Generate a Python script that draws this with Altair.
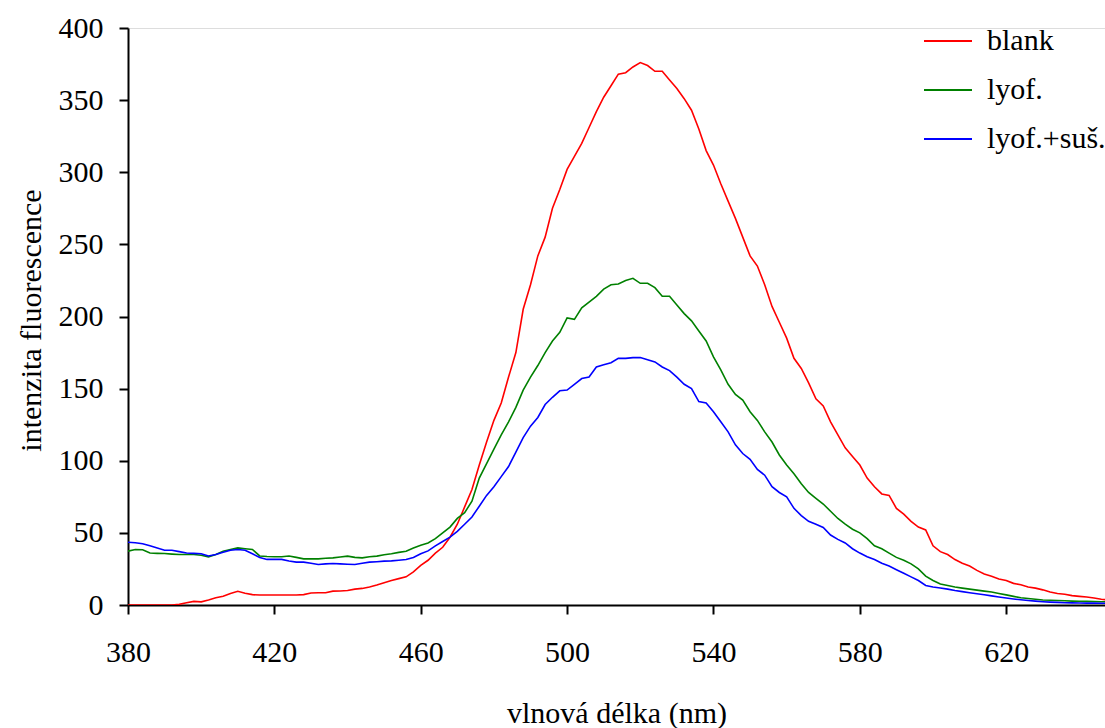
import altair as alt
import pandas as pd

wavelength = list(range(380, 650, 2))

blank = [0, 0, 0, 0, 0, 0, 0, 0.5, 1.5, 2.5, 2.2, 3.5, 5, 6, 8, 9.5, 8.2, 7.2, 6.9, 6.9,
         6.9, 6.9, 6.9, 6.9, 7.2, 8.3, 8.5, 8.5, 9.6, 9.7, 10, 11, 11.5, 12.5, 13.8, 15.5, 17, 18.3, 19.5, 23,
         27.5, 31, 36, 40, 47, 56, 68, 80, 97, 113, 128, 140, 158, 175, 205, 222, 242, 255, 275, 288,
         302, 311, 320, 331, 342, 352, 360, 368, 369, 373, 376, 374, 370, 370, 364, 358, 351, 343, 330, 315,
         305, 292, 280, 268, 255, 242, 235, 222, 207, 196, 185, 171, 164, 154, 143, 138, 127, 118, 109, 103,
         97, 88, 82, 77, 76, 67, 63, 58, 54, 52, 41, 37, 35, 31.5, 29, 27, 24, 21.5, 20, 18,
         17, 15, 14, 12.5, 11.7, 10.5, 9, 8, 7.5, 6.5, 6, 5.5, 4.8, 4, 3.5]

lyof = [37.3, 38.5, 38.3, 36, 35.8, 35.7, 35.3, 35, 35, 35, 34.5, 33.4, 35, 37.3, 38.5, 39.6, 39, 38.5, 34, 33.6,
        33.4, 33.4, 34, 33, 32, 32, 32, 32.4, 32.7, 33.3, 33.9, 33, 32.7, 33.5, 33.9, 34.8, 35.5, 36.5, 37.3, 39.5,
        41.5, 43, 46, 50, 54, 60, 64, 72, 88, 98, 108, 118, 127, 137, 149, 158, 166, 175, 183, 189,
        199, 198, 206, 210, 214, 219, 222, 222.5, 225, 226.5, 223, 223, 220, 214, 214, 208, 202, 197, 190, 183,
        172, 163, 153, 146, 142, 134, 128, 120, 113, 104, 97, 91, 84, 78, 74, 70, 65, 60, 56, 52.5,
        50, 46, 41, 39, 36, 33, 31, 28.5, 25, 20, 17, 14.5, 13.5, 12.5, 11.7, 11, 10.3, 9.6, 9, 8,
        7, 6, 5, 4.5, 4, 3.5, 3.3, 3.1, 2.9, 2.7, 2.6, 2.5, 2.4, 2.3, 2.3]

lyof_sus = [43.5, 43.2, 42.5, 41, 39.5, 38, 38, 37, 36, 35.8, 35.5, 34, 35, 36.5, 38, 38.5, 38, 35.5, 33, 31.6,
            31.6, 31.6, 30.5, 29.7, 29.7, 29, 28.1, 28.5, 28.8, 28.5, 28.3, 28.1, 29, 29.7, 30, 30.4, 30.6, 31, 31.5, 33,
            35.5, 37.5, 41, 44, 47, 51, 56, 61, 68.5, 76, 82, 89, 96, 106, 116, 124, 130, 139, 144, 148.5,
            149, 153, 157, 158, 165, 166.5, 168, 171, 171, 171.5, 171.6, 170, 168.5, 165, 162.5, 158, 153, 150, 141, 140,
            134, 127, 120, 111, 105, 101, 94, 90, 82, 78, 75, 67, 62, 58, 56, 53.7, 48.5, 45.5, 43, 39,
            36, 33.5, 31.5, 29, 27, 24.5, 22, 19.5, 17, 13.5, 12.5, 11.8, 11, 10, 9.3, 8.5, 7.8, 7.1, 6.3, 5.5,
            4.8, 4.2, 3.6, 3.1, 2.7, 2.3, 2.0, 1.8, 1.6, 1.5, 1.4, 1.3, 1.3, 1.2, 1.2]

series_names = ["blank", "lyof.", "lyof.+suš."]
series_colors = ["#FF0000", "#008000", "#0000FF"]
x_ticks = [380, 420, 460, 500, 540, 580, 620]
y_ticks = [0, 50, 100, 150, 200, 250, 300, 350, 400]

rows = []
for name, vals in zip(series_names, [blank, lyof, lyof_sus]):
    for i, (w, v) in enumerate(zip(wavelength, vals)):
        rows.append({"wl": w, "val": v, "series": name, "order": i})
df = pd.DataFrame(rows)

FONT = "'Liberation Serif', 'Times New Roman', Times, serif"
FS = 30

chart = alt.Chart(df).mark_line(strokeWidth=1.6, clip=True).encode(
    x=alt.X("wl:Q",
            scale=alt.Scale(domain=[380, 647], nice=False, zero=False),
            axis=alt.Axis(values=x_ticks, title="vlnová délka (nm)", grid=False,
                          tickSize=9, tickWidth=2, domainWidth=2, domainColor="black", tickColor="black",
                          labelFontSize=FS, labelFont=FONT, labelColor="black", labelPadding=23,
                          titleFontSize=FS, titleFont=FONT, titleFontWeight="normal", titleColor="black",
                          titleY=108, titleBaseline="middle", labelFlush=False)),
    y=alt.Y("val:Q",
            scale=alt.Scale(domain=[0, 400], nice=False),
            axis=alt.Axis(values=y_ticks, title="intenzita fluorescence", grid=False,
                          tickSize=9, tickWidth=2, domainWidth=2, domainColor="black", tickColor="black",
                          labelFontSize=FS, labelFont=FONT, labelColor="black", labelPadding=16,
                          titleFontSize=FS, titleFont=FONT, titleFontWeight="normal", titleColor="black",
                          titleX=-97, titleY=292, titleAngle=-90, titleAlign="center",
                          titleBaseline="middle", labelFlush=False)),
    color=alt.Color("series:N",
                    scale=alt.Scale(domain=series_names, range=series_colors),
                    legend=alt.Legend(title=None, orient="none", legendX=795, legendY=-12,
                                      symbolType="stroke", symbolSize=2304, symbolStrokeWidth=2,
                                      labelFontSize=FS, labelFont=FONT, labelColor="black",
                                      labelOffset=14, rowPadding=9)),
    order="order:Q",
).properties(
    width=977, height=577,
    autosize=alt.AutoSizeParams(type="none"),
    padding={"left": 128, "top": 28, "right": 0, "bottom": 123},
).configure_view(stroke=None).configure(background="white")

chart.save("out.html", embed_options={"renderer": "svg", "actions": False})
